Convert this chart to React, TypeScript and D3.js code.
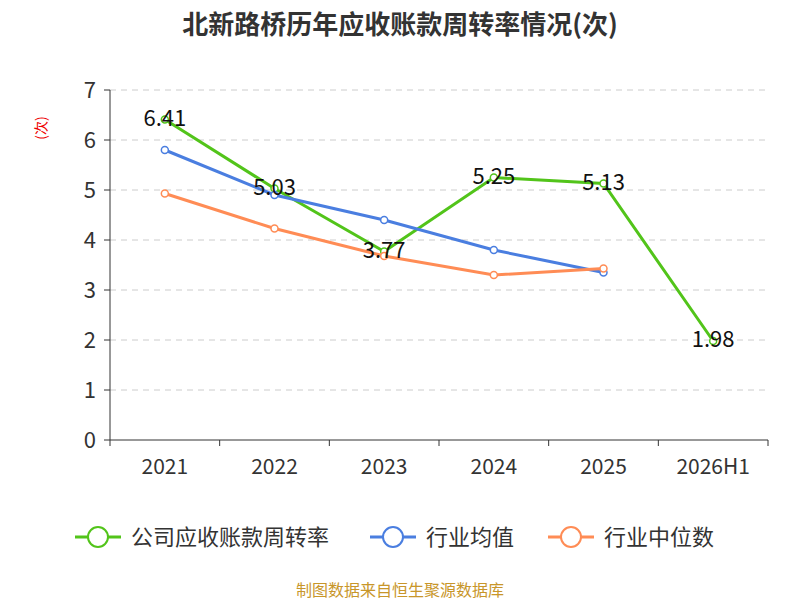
import * as d3 from 'd3';

const categories = ['2021', '2022', '2023', '2024', '2025', '2026H1'];
const company = [6.41, 5.03, 3.77, 5.25, 5.13, 1.98];
const industryMean = [5.8, 4.9, 4.4, 3.8, 3.35];
const industryMedian = [4.93, 4.23, 3.68, 3.3, 3.43];
const yTicks = [0, 1, 2, 3, 4, 5, 6, 7];

const series = [
  { name: '公司应收账款周转率', values: company, color: '#52c41a', labels: true },
  { name: '行业均值', values: industryMean, color: '#4a7ee0', labels: false },
  { name: '行业中位数', values: industryMedian, color: '#ff8c55', labels: false },
];

const font = '"Noto Sans CJK SC", "Noto Sans", sans-serif';

export default function App() {
  const W = 800, H = 600;
  const left = 110, right = 768, top = 90, bottom = 440;
  const x = d3.scaleBand().domain(categories).range([left, right]);
  const y = d3.scaleLinear().domain([0, 7]).range([bottom, top]);
  const cx = (i: number) => (x(categories[i]) as number) + x.bandwidth() / 2;
  const line = d3.line<number>().x((_, i) => cx(i)).y((d) => y(d));
  const legendX = [75, 370, 548];

  return (
    <svg width={W} height={H} style={{ position: 'absolute', left: 0, top: 0, fontFamily: font }}>
      <rect width={W} height={H} fill="#fff" />
      <text x={400} y={34} textAnchor="middle" fontSize={26} fontWeight="bold" fill="#333">北新路桥历年应收账款周转率情况(次)</text>
      <text transform="translate(46,128) rotate(-90)" textAnchor="middle" fontSize={14} fill="#e00">(次)</text>
      {yTicks.map((t) => (
        <g key={t}>
          {t > 0 && <line x1={left} x2={right} y1={y(t)} y2={y(t)} stroke="#ccc" strokeDasharray="6,5" />}
          <line x1={left - 6} x2={left} y1={y(t)} y2={y(t)} stroke="#333" />
          <text x={left - 14} y={y(t) + 8} textAnchor="end" fontSize={22} fill="#333">{t}</text>
        </g>
      ))}
      <line x1={left} x2={left} y1={top} y2={bottom} stroke="#333" />
      <line x1={left} x2={right} y1={bottom} y2={bottom} stroke="#333" />
      {categories.map((c, i) => (
        <g key={c}>
          <line x1={(x(c) as number)} x2={(x(c) as number)} y1={bottom} y2={bottom + 6} stroke="#333" />
          <text x={cx(i)} y={bottom + 34} textAnchor="middle" fontSize={21} fill="#333">{c}</text>
        </g>
      ))}
      <line x1={right} x2={right} y1={bottom} y2={bottom + 6} stroke="#333" />
      {series.map((s) => (
        <g key={s.name}>
          <path d={line(s.values) as string} fill="none" stroke={s.color} strokeWidth={3} />
          {s.values.map((v, i) => (
            <circle key={i} cx={cx(i)} cy={y(v)} r={3.5} fill="#fff" stroke={s.color} strokeWidth={1.5} />
          ))}
        </g>
      ))}
      {series.filter((s) => s.labels).map((s) =>
        s.values.map((v, i) => (
          <text key={s.name + i} x={cx(i)} y={y(v) + 6} textAnchor="middle" fontSize={22} fill="#111">{v.toFixed(2)}</text>
        ))
      )}
      {series.map((s, i) => (
        <g key={'lg' + i} transform={`translate(${legendX[i]},537)`}>
          <line x1={0} x2={46} y1={0} y2={0} stroke={s.color} strokeWidth={3} />
          <circle cx={23} cy={0} r={10} fill="#fff" stroke={s.color} strokeWidth={2} />
          <text x={56} y={8} fontSize={22} fill="#333">{s.name}</text>
        </g>
      ))}
      <text x={400} y={596} textAnchor="middle" fontSize={16} fill="#c8962a">制图数据来自恒生聚源数据库</text>
    </svg>
  );
}
